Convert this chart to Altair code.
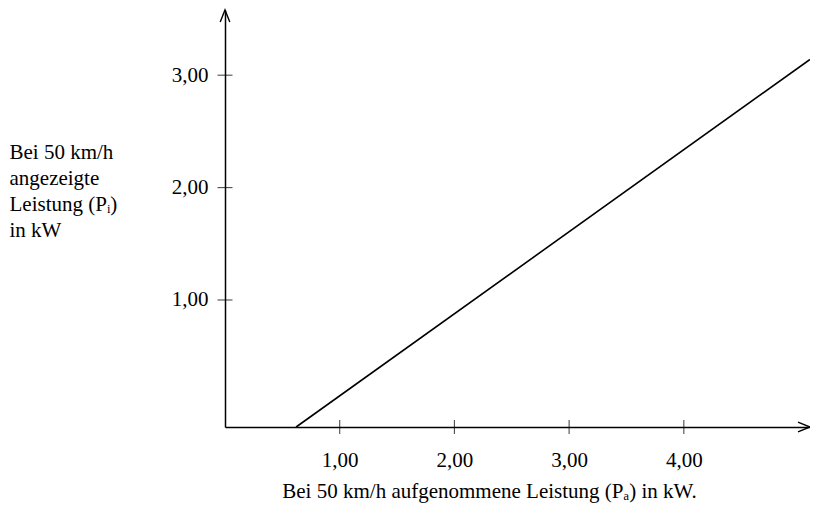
import altair as alt
import pandas as pd

# ---- data ----
x_ticks = [1, 2, 3, 4]
y_ticks = [1, 2, 3]
line_x = [0.62, 5.10]
line_y = [-0.13, 3.14]
x_domain = [0, 5.10]
y_domain = [-0.13, 3.58]
x_title = "Bei 50 km/h aufgenommene Leistung (Pₐ) in kW."
y_title = ["Bei 50 km/h", "angezeigte", "Leistung (Pᵢ)", "in kW"]

W, H = 585, 417
FONT = "Liberation Serif"
FS = 21

xs = alt.Scale(domain=x_domain, nice=False, zero=False)
ys = alt.Scale(domain=y_domain, nice=False, zero=False)
lab = "replace(format(datum.value, '.2f'), '.', ',')"

x_axis = alt.Axis(
    values=x_ticks, labelExpr=lab, ticks=False, tickSize=0, grid=False,
    domainColor="black", domainWidth=1.5,
    labelFont=FONT, labelFontSize=FS, labelColor="black", labelPadding=22,
    title=x_title, titleFont=FONT, titleFontSize=FS, titleFontWeight="normal",
    titleColor="black", titleBaseline="alphabetic", titleAlign="center",
    titleX=264, titleY=70)
y_axis = alt.Axis(
    values=y_ticks, labelExpr=lab, ticks=False, tickSize=0, grid=False,
    domainColor="black", domainWidth=1.5,
    labelFont=FONT, labelFontSize=FS, labelColor="black", labelPadding=17,
    title=y_title, titleFont=FONT, titleFontSize=FS, titleFontWeight="normal",
    titleColor="black", titleAngle=0, titleAlign="left",
    titleBaseline="alphabetic", titleLineHeight=26,
    titleX=-216, titleY=148)

line_df = pd.DataFrame({"x": line_x, "y": line_y})

line = alt.Chart(line_df).mark_line(color="black", strokeWidth=1.6).encode(
    x=alt.X("x:Q", scale=xs, axis=x_axis),
    y=alt.Y("y:Q", scale=ys, axis=y_axis),
)

xt = alt.Chart(pd.DataFrame({"x": x_ticks})).mark_tick(
    color="black", orient="vertical", size=14, thickness=1.1
).encode(x=alt.X("x:Q", scale=xs, axis=x_axis), y=alt.value(H))

yt = alt.Chart(pd.DataFrame({"y": y_ticks})).mark_tick(
    color="black", orient="horizontal", size=15, thickness=1.1
).encode(y=alt.Y("y:Q", scale=ys, axis=y_axis), x=alt.value(0))

arrow_up = alt.Chart(pd.DataFrame({"a": [0]})).mark_point(
    shape="M -0.4 1 L 0 0 L 0.4 1", filled=False, color="black",
    strokeWidth=1.4, size=576, opacity=1
).encode(x=alt.value(0), y=alt.value(0))

arrow_right = alt.Chart(pd.DataFrame({"a": [0]})).mark_point(
    shape="M -1 -0.4 L 0 0 L -1 0.4", filled=False, color="black",
    strokeWidth=1.4, size=576, opacity=1
).encode(x=alt.value(W), y=alt.value(H))

chart = alt.layer(line, xt, yt, arrow_up, arrow_right).properties(
    width=W, height=H,
    autosize=alt.AutoSizeParams(type="none"),
    padding={"left": 217, "top": 2, "right": 0, "bottom": 76},
    background="white",
).configure_view(stroke=None)

chart.save("out.html", embed_options={"renderer": "svg", "actions": False})
